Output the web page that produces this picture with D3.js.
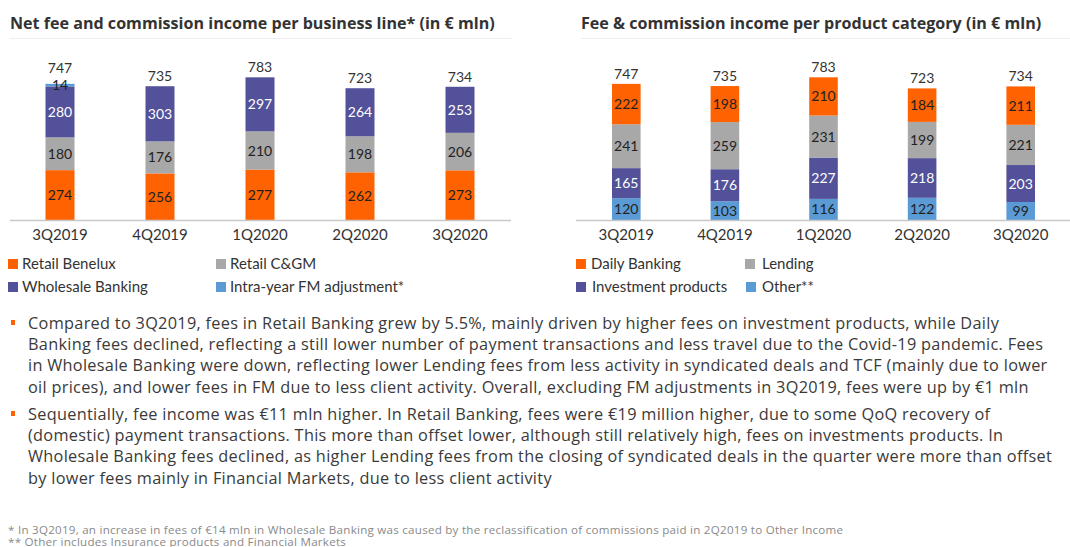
<!DOCTYPE html>
<html>
<head>
<meta charset="utf-8">
<script src="https://cdn.jsdelivr.net/npm/d3@7"></script>
<style>
  body { margin: 0; background: #fff; }
  svg { display: block; font-family: Lato, "Open Sans", sans-serif; }
</style>
</head>
<body>
<script>
// data
var quarters = ['3Q2019', '4Q2019', '1Q2020', '2Q2020', '3Q2020'];

var retailBenelux = [274, 256, 277, 262, 273];
var retailCGM = [180, 176, 210, 198, 206];
var wholesaleBanking = [280, 303, 297, 264, 253];
var fmAdjustment = [14, 0, 0, 0, 0];
var businessTotals = [747, 735, 783, 723, 734];

var otherFees = [120, 103, 116, 122, 99];
var investmentProducts = [165, 176, 227, 218, 203];
var lendingFees = [241, 259, 231, 199, 221];
var dailyBanking = [222, 198, 210, 184, 211];
var productTotals = [747, 735, 783, 723, 734];

var para1 = [
  "Compared to 3Q2019, fees in Retail Banking grew by 5.5%, mainly driven by higher fees on investment products, while Daily",
  "Banking fees declined, reflecting a still lower number of payment transactions and less travel due to the Covid-19 pandemic. Fees",
  "in Wholesale Banking were down, reflecting lower Lending fees from less activity in syndicated deals and TCF (mainly due to lower",
  "oil prices), and lower fees in FM due to less client activity. Overall, excluding FM adjustments in 3Q2019, fees were up by €1 mln"
];
var para2 = [
  "Sequentially, fee income was €11 mln higher. In Retail Banking, fees were €19 million higher, due to some QoQ recovery of",
  "(domestic) payment transactions. This more than offset lower, although still relatively high, fees on investments products. In",
  "Wholesale Banking fees declined, as higher Lending fees from the closing of syndicated deals in the quarter were more than offset",
  "by lower fees mainly in Financial Markets, due to less client activity"
];
var footnotes = [
  "* In 3Q2019, an increase in fees of €14 mln in Wholesale Banking was caused by the reclassification of commissions paid in 2Q2019 to Other Income",
  "** Other includes Insurance products and Financial Markets"
];

var ORANGE = "#ff6200", GREY = "#a8a8a8", PURPLE = "#525199", BLUE = "#5b9bd5";
var TEXT = "#333";
var WIDE = "'Open Sans', Lato, sans-serif";

var svg = d3.select("body").append("svg")
    .attr("width", 1070)
    .attr("height", 547);

var y = d3.scaleLinear().domain([0, 800]).range([220, 74.4]);

function drawChart(opt) {
  var g = svg.append("g");

  g.append("text")
    .attr("x", opt.titleX).attr("y", 29)
    .attr("font-family", WIDE)
    .attr("font-size", 16.1).attr("font-weight", "bold")
    .attr("fill", TEXT)
    .text(opt.title);

  g.append("line")
    .attr("x1", opt.titleX).attr("x2", opt.lineEnd)
    .attr("y1", 38.5).attr("y2", 38.5)
    .attr("stroke", "#eee").attr("stroke-width", 1);

  var x = d3.scaleBand()
    .domain(quarters)
    .range(opt.range)
    .paddingInner(0.71)
    .paddingOuter(0.355);

  var rows = quarters.map(function(q, i) {
    var r = { q: q };
    opt.series.forEach(function(s) { r[s.name] = s.values[i]; });
    return r;
  });

  var stack = d3.stack().keys(opt.series.map(function(s) { return s.name; }));
  var layers = stack(rows);

  var layer = g.selectAll("g.layer")
    .data(layers)
    .enter().append("g")
      .attr("class", "layer")
      .attr("fill", function(d, i) { return opt.series[i].color; });

  layer.selectAll("rect")
    .data(function(d) { return d; })
    .enter().append("rect")
      .attr("x", function(d) { return x(d.data.q); })
      .attr("width", x.bandwidth())
      .attr("y", function(d) { return y(d[1]); })
      .attr("height", function(d) { return y(d[0]) - y(d[1]); });

  layers.forEach(function(l, li) {
    var s = opt.series[li];
    g.append("g").selectAll("text")
      .data(l.filter(function(d) { return d[1] - d[0] > 0; }))
      .enter().append("text")
        .attr("x", function(d) { return x(d.data.q) + x.bandwidth() / 2; })
        .attr("y", function(d) { return (y(d[0]) + y(d[1])) / 2; })
        .attr("dy", "0.36em")
        .attr("text-anchor", "middle")
        .attr("font-size", 14)
        .attr("fill", s.color === PURPLE ? "#fff" : "#222")
        .text(function(d) { return d[1] - d[0]; });
  });

  // totals
  var top = layers[layers.length - 1];
  g.append("g").selectAll("text")
    .data(opt.totals)
    .enter().append("text")
      .attr("x", function(d, i) { return x(quarters[i]) + x.bandwidth() / 2; })
      .attr("y", function(d, i) {
        var small = opt.series[opt.series.length - 1].values[i];
        return y(top[i][1]) - 5 - (small > 0 && small < 30 ? 6 : 0);
      })
      .attr("text-anchor", "middle")
      .attr("font-size", 14)
      .attr("fill", TEXT)
      .text(function(d) { return d; });

  var axis = g.append("g")
    .attr("transform", "translate(0," + y(0) + ")")
    .call(d3.axisBottom(x).tickSize(0).tickPadding(9));
  axis.select(".domain")
    .attr("d", "M" + opt.axisX[0] + ",0.5H" + opt.axisX[1])
    .attr("stroke", "#c8c8c8").attr("stroke-width", 1.5);
  axis.selectAll("text")
    .attr("font-size", 15)
    .attr("font-family", "Lato, sans-serif")
    .attr("fill", TEXT);

  // legend
  var leg = g.append("g").selectAll("g")
    .data(opt.legend)
    .enter().append("g")
      .attr("transform", function(d) { return "translate(" + d.x + "," + d.y + ")"; });
  leg.append("rect")
    .attr("x", 0).attr("y", -5)
    .attr("width", 10).attr("height", 10)
    .attr("fill", function(d) { return d.color; });
  leg.append("text")
    .attr("x", function(d) { return d.tx; })
    .attr("dy", "0.36em")
    .attr("font-size", 15)
    .attr("fill", TEXT)
    .text(function(d) { return d.name; });
}

drawChart({
  title: "Net fee and commission income per business line* (in € mln)",
  titleX: 10, lineEnd: 512,
  range: [10, 510], axisX: [10, 511],
  series: [
    { name: "Retail Benelux", values: retailBenelux, color: ORANGE },
    { name: "Retail C&GM", values: retailCGM, color: GREY },
    { name: "Wholesale Banking", values: wholesaleBanking, color: PURPLE },
    { name: "Intra-year FM adjustment*", values: fmAdjustment, color: BLUE }
  ],
  totals: businessTotals,
  legend: [
    { name: "Retail Benelux", color: ORANGE, x: 8, y: 264, tx: 14 },
    { name: "Retail C&GM", color: GREY, x: 216, y: 264, tx: 14 },
    { name: "Wholesale Banking", color: PURPLE, x: 8, y: 287, tx: 14 },
    { name: "Intra-year FM adjustment*", color: BLUE, x: 216, y: 287, tx: 14 }
  ]
});

drawChart({
  title: "Fee & commission income per product category (in € mln)",
  titleX: 581, lineEnd: 1070,
  range: [577, 1070], axisX: [576, 1070],
  series: [
    { name: "Other", values: otherFees, color: BLUE },
    { name: "Investment products", values: investmentProducts, color: PURPLE },
    { name: "Lending", values: lendingFees, color: GREY },
    { name: "Daily Banking", values: dailyBanking, color: ORANGE }
  ],
  totals: productTotals,
  legend: [
    { name: "Daily Banking", color: ORANGE, x: 576, y: 264, tx: 15 },
    { name: "Lending", color: GREY, x: 745, y: 264, tx: 17 },
    { name: "Investment products", color: PURPLE, x: 576, y: 287, tx: 16 },
    { name: "Other**", color: BLUE, x: 746, y: 287, tx: 16 }
  ]
});

// commentary
function drawPara(lines, top) {
  var g = svg.append("g");
  g.append("rect")
    .attr("x", 11).attr("y", top - 3)
    .attr("width", 4).attr("height", 5)
    .attr("fill", ORANGE);
  g.selectAll("text")
    .data(lines)
    .enter().append("text")
      .attr("x", 28)
      .attr("y", function(d, i) { return top + i * 21.3; })
      .attr("dy", "0.36em")
      .attr("font-family", WIDE)
      .attr("font-size", 16.3)
      .attr("letter-spacing", 0.3)
      .attr("fill", "#3a3a3a")
      .text(function(d) { return d; });
}
drawPara(para1, 323);
drawPara(para2, 414);

svg.append("g").selectAll("text")
  .data(footnotes)
  .enter().append("text")
    .attr("x", 8)
    .attr("y", function(d, i) { return 529.5 + i * 12.5; })
    .attr("dy", "0.36em")
    .attr("font-family", WIDE)
    .attr("font-size", 11.6)
    .attr("letter-spacing", 0.25)
    .attr("fill", "#8a8a8a")
    .text(function(d) { return d; });
</script>
</body>
</html>
